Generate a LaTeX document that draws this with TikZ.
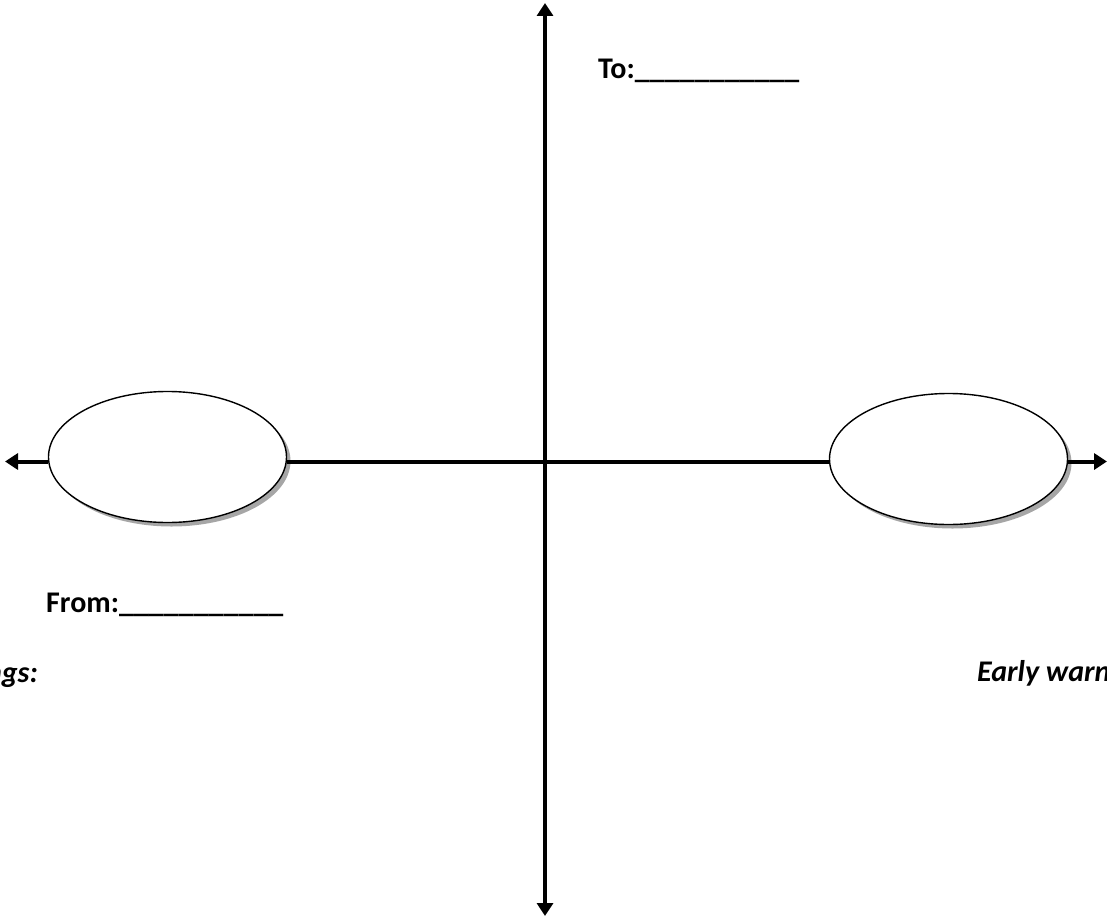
\documentclass[tikz,border=0pt]{standalone}
\usepackage{fontspec}
\setmainfont{Carlito}
\usetikzlibrary{shapes.geometric,shadows,arrows.meta}
\begin{document}
\begin{tikzpicture}[x=1pt,y=-1pt,
  axis/.style={line width=4pt,-{Triangle[length=13pt,width=16pt]}},
  axis2/.style={line width=4pt,{Triangle[length=13pt,width=16pt]}-{Triangle[length=13pt,width=16pt]}},
  oval/.style={ellipse,draw=black,line width=1.4pt,fill=white,inner sep=0pt,
    minimum width=238pt,minimum height=131pt,
    drop shadow={shadow xshift=4pt,shadow yshift=-4pt,fill=black!35,opacity=1}},
  lbl/.style={font=\fontsize{30}{34}\selectfont\bfseries,inner sep=0pt},
  ilbl/.style={font=\fontsize{30}{34}\selectfont\bfseries\itshape,inner sep=0pt}]
\useasboundingbox[fill=white] (0,0) rectangle (1107,920);
% axes end points
\coordinate (top) at (545,3);
\coordinate (bot) at (545,916);
\coordinate (lt) at (5,461.5);
\coordinate (rt) at (1107,461.5);
\coordinate (O) at (545,461.5);
% vertical axis
\draw[axis2] (bot) -- (top);
% ovals
\node[oval] (L) at (167.5,457) {};
\node[oval] (R) at (948.5,459) {};
% horizontal axis
\draw[axis] (L.west |- O) -- (lt);
\draw[line width=4pt] (L.east |- O) -- (R.west |- O);
\draw[axis] (R.east |- O) -- (rt);
% labels
\node[lbl,anchor=base west] (to) at (598,79) {To:\_\_\_\_\_\_\_\_\_\_\_};
\node[lbl,anchor=base west] (from) at (46,612) {From:\_\_\_\_\_\_\_\_\_\_\_};
\node[ilbl,anchor=base east] (ngs) at (38,682) {ngs:};
\node[ilbl,anchor=base west] (early) at (977,681) {Early warn};
\end{tikzpicture}
\end{document}
